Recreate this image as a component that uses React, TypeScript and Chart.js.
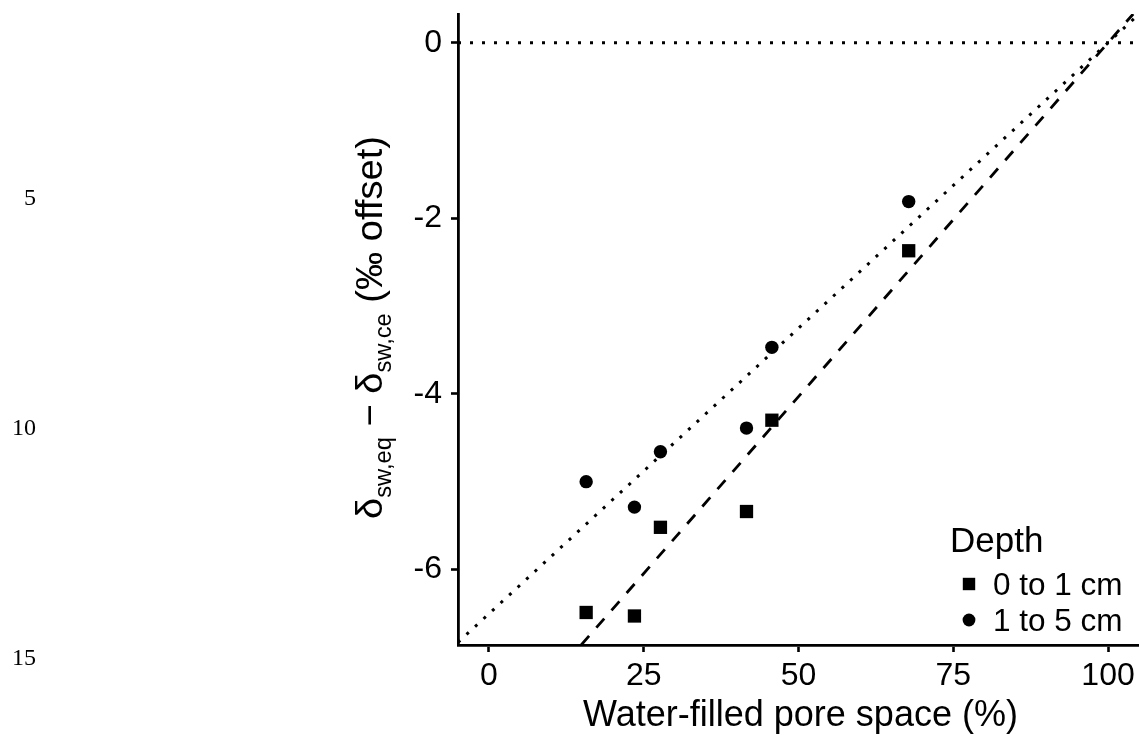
import React, { useEffect, useRef } from 'react';
import { Chart, registerables } from 'chart.js';

Chart.register(...registerables);

// ---------- data ----------
const wfps = [15.7, 23.5, 27.7, 41.6, 45.7, 67.8];
const depth0to1 = [-6.49, -6.53, -5.52, -5.34, -4.3, -2.37];
const depth1to5 = [-5.0, -5.29, -4.66, -4.39, -3.47, -1.81];
const seriesNames = ['0 to 1 cm', '1 to 5 cm'];
const legendTitle = 'Depth';

const xTicks = [0, 25, 50, 75, 100];
const yTicks = [-6, -4, -2, 0];
const xLimits = [-5, 105];
const yLimits = [-6.8604, 0.3267];

// fitted lines (end points)
const fitShallowX = [14.9, 104.06];
const fitShallowY = [-6.86, 0.327];
const fitDeepX = [-5, 105];
const fitDeepY = [-6.83, 0.325];
// horizontal reference line at zero
const zeroLineX = [-5, 105];
const zeroLineY = [0, 0];

const lineNumbers = [5, 10, 15];

const xTitle = 'Water-filled pore space (%)';

const SANS = '"Liberation Sans", Arial, Helvetica, sans-serif';
const SERIF = '"Liberation Serif", "Times New Roman", serif';

const toPts = (xs: number[], ys: number[]) => xs.map((x, i) => ({ x, y: ys[i] }));

const textPlugin = {
  id: 'customText',
  afterDraw(chart: any) {
    const ctx: CanvasRenderingContext2D = chart.ctx;
    const area = chart.chartArea;
    ctx.save();
    ctx.fillStyle = '#000';

    // manuscript line numbers
    ctx.font = `24px ${SERIF}`;
    ctx.textAlign = 'right';
    ctx.textBaseline = 'alphabetic';
    lineNumbers.forEach((n) => {
      ctx.fillText(String(n), 36, 205 + (n - 5) * 46);
    });

    // x axis title
    ctx.font = `36px ${SANS}`;
    ctx.textAlign = 'center';
    ctx.fillText(xTitle, (area.left + area.right) / 2 + 2, 726);

    // y axis title with subscripts
    const M = 37;
    const S = 23;
    const stretch = 1.03;
    const parts: { t: string; size: number; dy: number }[] = [
      { t: 'δ', size: M, dy: 0 },
      { t: 'sw,eq', size: S, dy: 9 },
      { t: ' − ', size: M, dy: 0 },
      { t: 'δ', size: M, dy: 0 },
      { t: 'sw,ce', size: S, dy: 9 },
      { t: ' (‰ offset)', size: M, dy: 0 },
    ];
    let total = 0;
    const widths = parts.map((p) => {
      ctx.font = `${p.size}px ${SANS}`;
      const w = ctx.measureText(p.t).width;
      total += w;
      return w;
    });
    ctx.save();
    ctx.translate(382, (area.top + area.bottom) / 2 - 2);
    ctx.rotate(-Math.PI / 2);
    ctx.scale(stretch, 1);
    ctx.textAlign = 'left';
    let cx = -total / 2;
    parts.forEach((p, i) => {
      ctx.font = `${p.size}px ${SANS}`;
      ctx.fillText(p.t, cx, p.dy);
      cx += widths[i];
    });
    ctx.restore();

    // legend
    ctx.textAlign = 'left';
    ctx.font = `35px ${SANS}`;
    ctx.fillText(legendTitle, 950, 552);
    ctx.font = `31.5px ${SANS}`;
    const rows = [584, 620];
    rows.forEach((cy, i) => {
      if (i === 0) {
        ctx.fillRect(969 - 6.2, cy - 6.2, 12.4, 12.4);
      } else {
        ctx.beginPath();
        ctx.arc(969, cy, 6.4, 0, Math.PI * 2);
        ctx.fill();
      }
      ctx.fillText(seriesNames[i], 993, cy + 11);
    });
    ctx.restore();
  },
};

export default function App() {
  const ref = useRef<HTMLCanvasElement | null>(null);
  useEffect(() => {
    if (!ref.current) return;
    const chart = new Chart(ref.current, {
      type: 'scatter',
      data: {
        datasets: [
          {
            label: seriesNames[0],
            data: toPts(wfps, depth0to1),
            pointStyle: 'rect',
            pointRadius: 9.4,
            backgroundColor: '#000',
            borderColor: '#000',
            borderWidth: 0,
          },
          {
            label: seriesNames[1],
            data: toPts(wfps, depth1to5),
            pointStyle: 'circle',
            pointRadius: 6.7,
            backgroundColor: '#000',
            borderColor: '#000',
            borderWidth: 0,
          },
          {
            label: 'fit 0 to 1 cm',
            data: toPts(fitShallowX, fitShallowY),
            showLine: true,
            pointRadius: 0,
            borderColor: '#000',
            borderWidth: 2.8,
            borderDash: [12, 11],
          },
          {
            label: 'fit 1 to 5 cm',
            data: toPts(fitDeepX, fitDeepY),
            showLine: true,
            pointRadius: 0,
            borderColor: '#000',
            borderWidth: 3,
            borderDash: [3, 8.6],
          },
          {
            label: 'zero',
            data: toPts(zeroLineX, zeroLineY),
            showLine: true,
            pointRadius: 0,
            borderColor: '#000',
            borderWidth: 3,
            borderDash: [3, 9],
          },
        ],
      },
      options: {
        animation: false,
        responsive: false,
        events: [],
        layout: { autoPadding: false, padding: { top: 14, right: 0, left: 0, bottom: 0 } },
        plugins: {
          legend: { display: false },
          tooltip: { enabled: false },
        },
        scales: {
          x: {
            type: 'linear',
            min: xLimits[0],
            max: xLimits[1],
            afterBuildTicks: (s: any) => {
              s.ticks = xTicks.map((v) => ({ value: v }));
            },
            afterFit: (s: any) => {
              s.height = 95;
              s.paddingLeft = 0;
              s.paddingRight = 0;
            },
            ticks: {
              callback: (v: any) => String(v),
              color: '#000',
              font: { family: SANS, size: 32 },
              padding: 5,
              maxRotation: 0,
              autoSkip: false,
            },
            grid: {
              drawOnChartArea: false,
              drawTicks: true,
              tickLength: 7,
              tickWidth: 2.6,
              tickColor: '#000',
              color: '#000',
            },
            border: { display: true, color: '#000', width: 2.8 },
          },
          y: {
            type: 'linear',
            min: yLimits[0],
            max: yLimits[1],
            afterBuildTicks: (s: any) => {
              s.ticks = yTicks.map((v) => ({ value: v }));
            },
            afterFit: (s: any) => {
              s.width = 458;
              s.paddingTop = 0;
              s.paddingBottom = 0;
            },
            ticks: {
              callback: (v: any) => String(v),
              color: '#000',
              font: { family: SANS, size: 32 },
              padding: 9,
              autoSkip: false,
            },
            grid: {
              drawOnChartArea: false,
              drawTicks: true,
              tickLength: 7,
              tickWidth: 2.6,
              tickColor: '#000',
              color: '#000',
            },
            border: { display: true, color: '#000', width: 2.8 },
          },
        },
      },
      plugins: [textPlugin],
    });
    return () => chart.destroy();
  }, []);

  return (
    <div style={{ position: 'absolute', left: 0, top: 0, width: 1139, height: 740, background: '#fff' }}>
      <canvas ref={ref} width={1139} height={740} />
    </div>
  );
}
